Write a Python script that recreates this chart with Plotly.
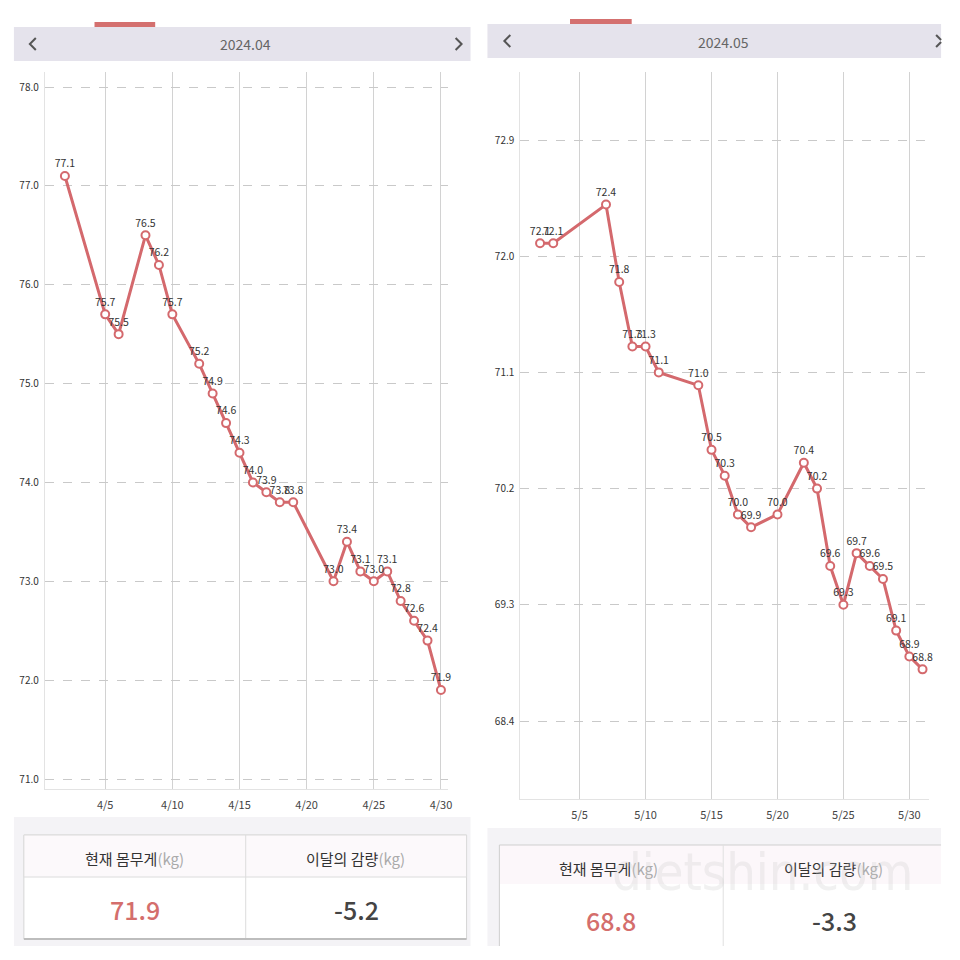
import plotly.graph_objects as go

# ---------------- data ----------------
apr_days = [2, 5, 6, 8, 9, 10, 12, 13, 14, 15, 16, 17, 18, 19, 22, 23, 24, 25, 26, 27, 28, 29, 30]
apr_weight = [77.1, 75.7, 75.5, 76.5, 76.2, 75.7, 75.2, 74.9, 74.6, 74.3, 74.0, 73.9, 73.8, 73.8,
              73.0, 73.4, 73.1, 73.0, 73.1, 72.8, 72.6, 72.4, 71.9]
may_days = [2, 3, 7, 8, 9, 10, 11, 14, 15, 16, 17, 18, 20, 22, 23, 24, 25, 26, 27, 28, 29, 30, 31]
may_weight = [72.1, 72.1, 72.4, 71.8, 71.3, 71.3, 71.1, 71.0, 70.5, 70.3, 70.0, 69.9, 70.0,
              70.4, 70.2, 69.6, 69.3, 69.7, 69.6, 69.5, 69.1, 68.9, 68.8]

tick_days = [5, 10, 15, 20, 25, 30]
apr_ticktext = ["4/5", "4/10", "4/15", "4/20", "4/25", "4/30"]
may_ticktext = ["5/5", "5/10", "5/15", "5/20", "5/25", "5/30"]
apr_yticks = [71.0, 72.0, 73.0, 74.0, 75.0, 76.0, 77.0, 78.0]
may_yticks = [68.4, 69.3, 70.2, 71.1, 72.0, 72.9]

apr_title = "2024.04"
may_title = "2024.05"
apr_current, apr_loss = "71.9", "-5.2"
may_current, may_loss = "68.8", "-3.3"

# ---------------- style ----------------
W = H = 960
RED = "#d4696d"
FONT = "Noto Sans CJK KR"


def px(x):
    return x / W


def py(y):
    return 1 - y / H


fig = go.Figure()

for days, wts, xa, ya in [(apr_days, apr_weight, "x", "y"), (may_days, may_weight, "x2", "y2")]:
    fig.add_trace(go.Scatter(
        x=days, y=wts, xaxis=xa, yaxis=ya,
        mode="lines+markers+text",
        line=dict(color=RED, width=3),
        marker=dict(size=8, color="white", line=dict(color=RED, width=2)),
        texttemplate="%{y:.1f}", textposition="top center",
        textfont=dict(family=FONT, size=10.5, color="#333"),
        cliponaxis=False, showlegend=False, hoverinfo="x+y",
    ))

axis_common_x = dict(
    showgrid=True, gridcolor="#d2d2d2", gridwidth=1, zeroline=False,
    showline=True, linecolor="#e3e3e3", linewidth=1,
    ticks="outside", ticklen=6, tickcolor="rgba(0,0,0,0)",
    tickfont=dict(family=FONT, size=11, color="#444"),
    tickvals=tick_days, fixedrange=True,
)
axis_common_y = dict(
    showgrid=True, gridcolor="#c9c9c9", gridwidth=1, griddash="dash", zeroline=False,
    showline=True, linecolor="#e3e3e3", linewidth=1,
    ticks="outside", ticklen=3, tickcolor="rgba(0,0,0,0)",
    tickfont=dict(family=FONT, size=10, color="#333"),
    tickformat=".1f", fixedrange=True,
)

apr_ppk = (779 - 87) / 7.0
may_ppk = (721 - 140) / 4.5

fig.update_layout(
    width=W, height=H, margin=dict(l=0, r=0, t=0, b=0),
    paper_bgcolor="white", plot_bgcolor="white",
    xaxis=dict(axis_common_x, domain=[px(45), px(450)], range=[0.5, 30.5],
               ticktext=apr_ticktext, anchor="y"),
    yaxis=dict(axis_common_y, domain=[py(789), py(72)],
               range=[71.0 - (789 - 779) / apr_ppk, 78.0 + (87 - 72) / apr_ppk],
               tickvals=apr_yticks, anchor="x"),
    xaxis2=dict(axis_common_x, domain=[px(523), px(934)], range=[0.5, 31.5],
                ticktext=may_ticktext, anchor="y2"),
    yaxis2=dict(axis_common_y, domain=[py(799), py(72)],
                range=[68.4 - (799 - 721) / may_ppk, 72.9 + (140 - 72) / may_ppk],
                tickvals=may_yticks, anchor="x2"),
)

shapes = []
annots = []


def rect(x0, y0, x1, y1, fill, line=None, lw=0):
    shapes.append(dict(type="rect", xref="paper", yref="paper", layer="below",
                       x0=px(x0), x1=px(x1), y0=py(y1), y1=py(y0),
                       fillcolor=fill, line=dict(color=line or fill, width=lw)))


def seg(x0, y0, x1, y1, color, w=1):
    shapes.append(dict(type="line", xref="paper", yref="paper", layer="above",
                       x0=px(x0), x1=px(x1), y0=py(y0), y1=py(y1),
                       line=dict(color=color, width=w)))


def chevron(pts, color="#555", w=2):
    path = "M " + " L ".join(f"{px(x)},{py(y)}" for x, y in pts)
    shapes.append(dict(type="path", xref="paper", yref="paper", path=path,
                       line=dict(color=color, width=w)))


def text(x, y, s, size, color, weight=None):
    f = dict(family=FONT, size=size, color=color)
    if weight:
        f["weight"] = weight
    annots.append(dict(x=px(x), y=py(y), xref="paper", yref="paper", text=s,
                       showarrow=False, xanchor="center", yanchor="middle", font=f))


# ---- headers ----
rect(14, 27, 473, 61, "#e5e3ec")
rect(95, 22, 156, 27, "#d4706f")
chevron([(36, 38), (30, 44), (36, 50)])
chevron([(458, 38), (464, 44), (458, 50)])
text(247, 44, apr_title, 14, "#666")

rect(490, 24, 946, 58, "#e5e3ec")
rect(573, 19, 635, 24, "#d4706f")
chevron([(513, 35), (507, 41), (513, 47)])
chevron([(941, 35), (946, 40)])
chevron([(946, 42), (941, 47)])
text(727, 42, may_title, 14, "#666")

# ---- April summary box ----
rect(14, 817, 473, 946, "#f4f3f6")
rect(24, 835, 469, 939, "white", "#d6d6d6", 1)
rect(24, 835, 469, 877, "#fcf9fb", "#dcdcdc", 1)
seg(247, 835, 247, 939, "#dcdcdc")
seg(24, 939, 469, 939, "#bdbdbd", 2)
kg = "<span style='color:#aaa'>(kg)</span>"
text(135, 858, "현재 몸무게" + kg, 15, "#333")
text(357, 858, "이달의 감량" + kg, 15, "#333")
text(136, 909, apr_current, 25, "#d46e6c", 500)
text(358, 909, apr_loss, 25, "#444", 500)

# ---- May summary box ----
rect(490, 828, 946, 946, "#f4f3f6")
rect(502, 845, 946, 960, "white")
rect(502, 845, 946, 884, "#fcf7fa")
seg(502, 845, 502, 946, "#cfcfcf")
seg(502, 845, 946, 845, "#cfcfcf")
seg(727, 845, 727, 946, "#e0e0e0")
text(612, 868, "현재 몸무게" + kg, 15, "#333")
text(838, 868, "이달의 감량" + kg, 15, "#333")
text(614, 920, may_current, 25, "#d46e6c", 500)
text(839, 920, may_loss, 25, "#444", 500)

# watermark (faint, as in the reference)
annots.append(dict(x=px(766), y=py(872), xref="paper", yref="paper", text="dietshin.com",
                   showarrow=False, xanchor="center", yanchor="middle",
                   font=dict(family="DejaVu Sans Condensed", size=52, color="rgba(200,200,200,0.25)")))

fig.update_layout(shapes=shapes, annotations=annots)

fig.write_html("out.html")
